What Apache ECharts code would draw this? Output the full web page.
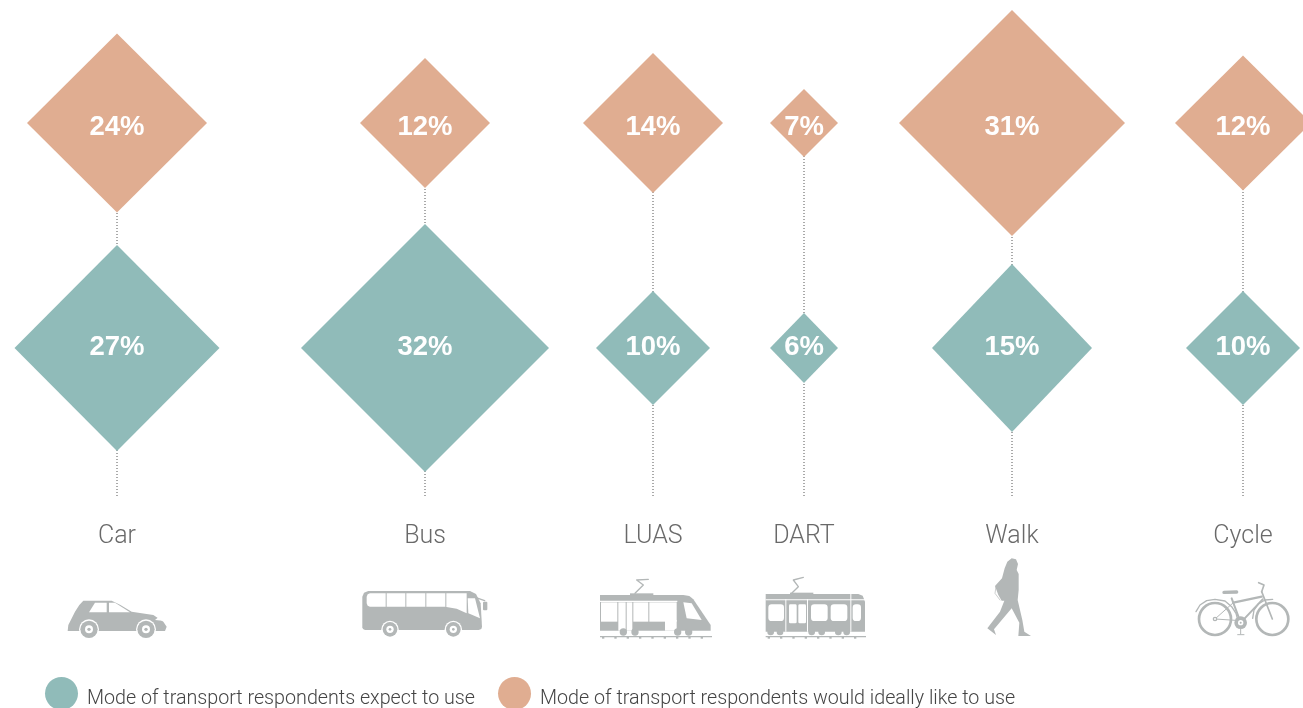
<!DOCTYPE html>
<html>
<head>
<meta charset="utf-8">
<style>html,body{margin:0;padding:0;background:#fff;overflow:hidden}#c{width:1303px;height:708px}</style>
<script src="https://cdn.jsdelivr.net/npm/echarts@6/dist/echarts.min.js"></script>
</head>
<body>
<div id="c"></div>
<script>
// ---------- data ----------
const modes = ['Car', 'Bus', 'LUAS', 'DART', 'Walk', 'Cycle'];
const expectValues = [27, 32, 10, 6, 15, 10];
const idealValues = [24, 12, 14, 7, 31, 12];
const expectName = 'Mode of transport respondents expect to use';
const idealName = 'Mode of transport respondents would ideally like to use';

// ---------- layout (axis space equals the 1303x708 picture) ----------
const modeX = [117, 425, 653, 804, 1012, 1243];
const idealRowY = 123, expectRowY = 348, stemEndY = 496, labelRowY = 537;
const expectSizes = [[205,206],[248,248],[114,114],[68,70],[160,168],[114,114]];
const idealSizes = [[180,179],[130,130],[140,140],[68,68],[226,226],[136,135]];

// ---------- styles ----------
const TEAL = '#90bbb9', SALMON = '#e0ad91', ICON = '#b3b7b7', INK = '#444444';
const FONT = 'Roboto, "Liberation Sans", sans-serif';

function diamonds(name, values, rowY, sizes, color, labelShift) {
  return {
    name, type: 'scatter', z: 3, symbol: 'diamond',
    symbolSize: (v, p) => sizes[p.dataIndex],
    itemStyle: { color, opacity: 1 },
    label: {
      show: true, position: 'inside', offset: [0, labelShift],
      formatter: p => p.value[2] + '%',
      color: '#fff', fontFamily: '"Liberation Sans", sans-serif', fontWeight: 'bold', fontSize: 27.5
    },
    emphasis: { disabled: true },
    data: values.map((v, i) => [modeX[i], rowY, v])
  };
}

const stems = modes.map((m, i) => ({
  name: m + ' stem', type: 'line', z: 1, symbol: 'none', silent: true,
  lineStyle: { color: '#555', width: 1, type: [1, 2] },
  data: [[modeX[i], idealRowY], [modeX[i], stemEndY]]
}));

const names = {
  name: 'Modes', type: 'scatter', symbolSize: 0, silent: true,
  label: {
    show: true, position: 'inside', formatter: p => modes[p.dataIndex],
    color: INK, fontFamily: FONT, fontWeight: 300, fontSize: 25
  },
  data: modes.map((m, i) => [modeX[i], labelRowY])
};

// ---------- icons: decorative traces, in 3x-zoomed local units ----------
const poly = (points, fill) => ({ type: 'polygon', shape: { points }, style: { fill } });
const line = (points, w, stroke) => ({ type: 'polyline', shape: { points }, style: { stroke: stroke || ICON, lineWidth: w, fill: null, lineCap: 'round', lineJoin: 'round' } });
const circ = (cx, cy, r, fill) => ({ type: 'circle', shape: { cx, cy, r }, style: { fill } });
const ring = (cx, cy, r, w) => ({ type: 'circle', shape: { cx, cy, r }, style: { fill: null, stroke: ICON, lineWidth: w } });
const rect = (x, y, width, height, fill, r) => ({ type: 'rect', shape: { x, y, width, height, r: r || 0 }, style: { fill } });
const W = '#fff';
const wheel = (cx, cy, R, hole, dot) => [circ(cx, cy, R + 4, W), circ(cx, cy, R, ICON), circ(cx, cy, hole, W), circ(cx, cy, dot, ICON)];
const rail = (x0, x1, y) => {
  const out = [rect(x0, y, x1 - x0, 4, ICON)];
  for (let x = x0 + 6; x < x1; x += 37) out.push(rect(x, y + 3, 7, 5, ICON));
  return out;
};

const carIcon = [
  poly([[83,183],[85,165],[105,125],[118,105],[130,92],[215,92],[240,104],[275,125],[340,135],[370,155],[380,170],[375,183]], ICON),
  poly([[147,127],[165,98],[200,98],[200,127]], W),
  poly([[207,98],[225,98],[270,127],[207,127]], W),
  poly([[345,150],[355,142],[368,152]], W),
  ...wheel(147, 178, 26, 12, 5),
  ...wheel(318, 178, 26, 12, 5)
];
const busIcon = [
  poly([[985,63],[1290,63],[1308,72],[1322,100],[1326,170],[1324,177],[1316,180],[975,180],[969,177],[967,172],[967,80],[972,68]], ICON),
  poly([[990,70],[1280,70],[1280,130],[1250,116],[1215,110],[990,110],[983,107],[980,100],[980,80],[983,73]], W),
  rect(1037, 68, 3, 45, ICON), rect(1096, 68, 3, 45, ICON), rect(1156, 68, 3, 45, ICON), rect(1216, 68, 3, 45, ICON),
  poly([[1283,85],[1305,85],[1320,145],[1285,130]], W),
  line([[1308,83],[1334,92]], 4),
  rect(1329, 95, 13, 26, ICON, 3),
  ...wheel(1050, 178, 22, 11, 4),
  ...wheel(1240, 178, 22, 11, 4)
];
const luasIcon = [
  poly([[30,75],[280,75],[298,78],[310,88],[362,165],[362,182],[30,182]], ICON),
  rect(120, 70, 70, 6, ICON),
  line([[135,70],[160,45],[140,30],[175,28]], 4),
  rect(30, 92, 232, 4, W),
  rect(33, 97, 49, 58, W), rect(85, 97, 22, 85, W), rect(110, 97, 17, 85, W),
  rect(130, 97, 45, 58, W), rect(178, 97, 82, 58, W), rect(225, 150, 35, 32, W),
  poly([[280,97],[305,100],[335,150],[290,145]], W),
  circ(100, 186, 11, ICON), circ(135, 186, 11, ICON), circ(263, 186, 11, ICON), circ(296, 186, 11, ICON),
  ...rail(30, 366, 198)
];
const dartIcon = [
  poly([[527,72],[805,72],[818,77],[825,95],[825,185],[527,185]], ICON),
  rect(600, 68, 70, 6, ICON),
  line([[605,70],[625,50],[610,30],[640,22]], 4),
  rect(527, 88, 298, 3, W),
  rect(586, 88, 3, 97, W), rect(651, 88, 3, 97, W), rect(781, 72, 3, 113, W),
  rect(535, 103, 47, 50, W, 10), rect(597, 103, 23, 57, W, 4), rect(625, 103, 23, 57, W, 4),
  rect(663, 103, 50, 50, W, 10), rect(722, 103, 50, 50, W, 10), rect(788, 103, 25, 50, W, 10),
  circ(542, 186, 10, ICON), circ(570, 186, 10, ICON), circ(665, 186, 10, ICON), circ(695, 186, 10, ICON), circ(745, 186, 10, ICON), circ(770, 186, 10, ICON),
  ...rail(527, 828, 198)
];
const walkIcon = [
  poly([[125,25],[138,28],[144,42],[140,60],[146,72],[146,120],[143,150],[157,210],[163,245],[183,258],[145,258],[148,218],[125,175],[72,238],[78,255],[52,235],[90,185],[103,152],[95,152],[85,135],[75,108],[96,85],[104,55],[112,35]], ICON),
  line([[78,110],[75,130],[90,150]], 2)
];
const bikeIcon = [
  ring(735, 207, 48, 8), ring(907, 207, 48, 8),
  line([[678,185],[690,165],[710,152],[735,148],[765,153],[785,170],[798,190],[802,205]], 4),
  line([[848,205],[852,180],[865,162],[885,150],[908,148]], 4),
  line([[785,145],[812,218]], 6), line([[790,158],[875,140]], 7), line([[878,148],[812,218]], 6),
  line([[735,207],[812,212]], 3), line([[735,207],[790,158]], 3),
  line([[875,125],[907,207]], 5), line([[875,125],[882,105],[866,98]], 5),
  line([[762,127],[800,126]], 10),
  circ(812, 218, 19, ICON), circ(812, 218, 8, W), circ(812, 218, 3, ICON), circ(735, 207, 7, ICON), circ(735, 207, 3, W),
  line([[812,235],[812,252]], 3), line([[803,254],[822,254]], 3)
];
const iconGroup = (x, y, children) => ({ type: 'group', x, y, scaleX: 1 / 3, scaleY: 1 / 3, silent: true, children });

const chart = echarts.init(document.getElementById('c'), null, { renderer: 'canvas' });
chart.setOption({
  animation: false,
  backgroundColor: '#fff',
  grid: { left: 0, right: 0, top: 0, bottom: 0 },
  xAxis: { type: 'value', min: 0, max: 1303, show: false },
  yAxis: { type: 'value', min: 0, max: 708, inverse: true, show: false },
  legend: {
    data: [
      { name: expectName, itemStyle: { color: TEAL } },
      { name: idealName, itemStyle: { color: SALMON } }
    ],
    left: 45, top: 677, padding: 0, icon: 'circle', itemWidth: 33, itemHeight: 33, itemGap: 23, selectedMode: false,
    formatter: n => '{t|' + n + '}',
    textStyle: {
      color: INK, fontFamily: FONT, fontWeight: 300, fontSize: 19.7, padding: [0, 0, 0, 4],
      rich: { t: { color: INK, fontFamily: FONT, fontWeight: 300, fontSize: 19.7, padding: [11, 0, 0, 0] } }
    }
  },
  series: [
    ...stems,
    diamonds(idealName, idealValues, idealRowY, idealSizes, SALMON, 4),
    diamonds(expectName, expectValues, expectRowY, expectSizes, TEAL, -1),
    names
  ],
  graphic: [
    iconGroup(40, 570, [...carIcon, ...busIcon]),
    iconGroup(590, 570, [...luasIcon, ...dartIcon]),
    iconGroup(970, 550, [...walkIcon, ...bikeIcon])
  ]
});
</script>
</body>
</html>
